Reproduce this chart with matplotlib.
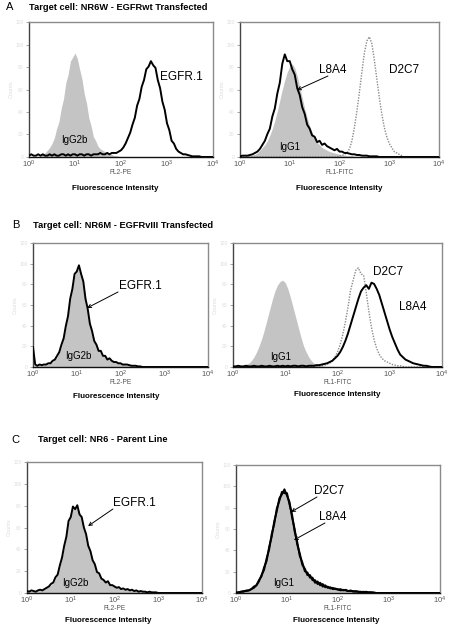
"""
Flow cytometry histograms: EGFR antibody binding on NR6W / NR6M / NR6 cells.
"""

import matplotlib
matplotlib.use("Agg")
import matplotlib.pyplot as plt
import numpy as np

plt.rcParams["font.family"] = ["Liberation Sans", "DejaVu Sans"]
plt.rcParams["mathtext.fontset"] = "custom"
plt.rcParams["mathtext.rm"] = "Liberation Sans"
plt.rcParams["mathtext.it"] = "Liberation Sans:italic"
plt.rcParams["mathtext.bf"] = "Liberation Sans:bold"

# channel grid: log10 fluorescence, 0 .. 4 in steps of 0.05
LOG_FL = np.linspace(0, 4, 81)
DECADES = [0, 1, 2, 3, 4]
DECADE_LABELS = ["$10^{0}$", "$10^{1}$", "$10^{2}$", "$10^{3}$", "$10^{4}$"]
COUNT_TICKS = [0, 16.7, 33.3, 50, 66.7, 83.3, 100]
COUNT_LABELS = ["0", "20", "40", "60", "80", "100", "120"]

# --- Panel A: NR6W (EGFRwt) ---
A_IGG2B = [0, 0, 0, 0.5, 0.5, 1, 2, 3, 5, 7,
           10, 14, 21, 26, 36, 43, 55, 61, 71, 74,
           77, 73, 65, 58, 47, 40, 29, 23, 15, 12,
           8, 6, 5, 4, 3, 2, 2, 1, 1, 0.5]
A_EGFR1 = [1, 2, 1, 1, 2, 1, 2, 1, 1, 2,
           1, 2, 1, 1, 2, 2, 1, 2, 1, 2,
           2, 1, 2, 2, 1, 2, 2, 1, 2, 2,
           2, 3, 2, 2, 3, 2, 3, 3, 3, 4,
           5, 7, 10, 14, 18, 24, 29, 38, 43, 52,
           57, 65, 67, 71, 68, 66, 57, 51, 41, 35,
           25, 20, 12, 10, 6, 4, 3, 2, 2, 1.5,
           1, 0.5, 0.5, 0.5, 0.5]
A_IGG1 = [0, 0, 0.5, 1, 1, 1.5, 2, 3, 5, 7,
          9, 12, 16, 21, 27, 34, 42, 50, 57, 63,
          67, 69, 66, 60, 52, 44, 36, 29, 23, 18,
          14, 11, 9, 7, 6, 5, 4, 3.5, 3, 2.5,
          2, 1.5, 1.5, 1, 1, 1, 0.5, 0.5, 0.5]
A_L8A4 = [0.5, 1, 1, 1, 1.5, 2, 3, 4, 6, 9,
          12, 17, 21, 30, 36, 47, 55, 69, 76, 71,
          71, 65, 61, 51, 46, 37, 32, 24, 21, 16,
          15, 11, 12, 9, 10, 8, 7, 6, 5, 6,
          4, 4, 3, 3, 2.5, 2, 2, 1.5, 1.5, 1,
          1, 1, 0.5, 0.5, 0.5, 0.5]
A_D2C7 = [0] * 40 + [1, 1, 2, 3, 6, 12, 22, 34, 48, 63,
                     77, 86, 89, 84, 72, 58, 44, 32, 22, 15,
                     10, 7, 4, 3, 2, 1]

# --- Panel B: NR6M (EGFRvIII) ---
B_IGG2B = [0, 1, 1, 1, 1.5, 1.5, 2, 2.5, 3, 4,
           6, 8, 12, 17, 24, 32, 42, 53, 64, 73,
           78, 80, 76, 68, 57, 46, 36, 28, 22, 17,
           14, 12, 10, 8, 7, 6, 5, 4, 3.5, 3,
           2.5, 2, 2, 1.5, 1.5, 1, 1, 0.5, 0.5]
B_EGFR1 = [16, 2, 1, 2, 1.5, 2, 2, 3, 3, 5,
           6, 9, 12, 18, 23, 33, 41, 55, 63, 75,
           77, 82, 75, 69, 55, 47, 35, 29, 21, 18,
           13, 13, 9, 9, 6, 7, 5, 4, 4, 3,
           3, 2, 2, 2, 1.5, 1, 1, 1, 0.5, 0.5]
B_IGG1 = [0, 0, 0, 0.5, 1, 2, 3, 5, 8, 12,
          17, 23, 30, 38, 46, 54, 61, 66, 69, 70,
          68, 63, 56, 48, 40, 32, 24, 17, 12, 8,
          5, 3, 2, 1, 1, 0.5]
B_D2C7 = [0] * 26 + [0.5, 0.5, 0.5, 0.5, 0.5, 0.5, 0.5, 0.5, 1, 1.5,
                     2, 3, 5, 8, 12, 18, 26, 36, 48, 62,
                     70, 78, 80, 75, 74, 60, 45, 32, 22, 15,
                     10, 7, 5, 4, 3, 2, 1.5, 1, 1, 0.5]
B_L8A4 = [0.5, 0.5, 1, 0.5, 0.5, 1, 0.5, 0.5, 1, 0.5,
          0.5, 1, 0.5, 0.5, 1, 0.5, 0.5, 1, 0.5, 1,
          0.5, 1, 0.5, 1, 1, 0.5, 1, 1, 0.5, 1,
          1, 1, 1.5, 1.5, 2, 2.5, 3, 4, 5, 7,
          9, 12, 16, 21, 27, 34, 41, 48, 55, 61,
          64, 66, 63, 68, 67, 63, 58, 51, 44, 37,
          30, 24, 19, 14, 10, 8, 6, 5, 4, 3,
          2.5, 2, 1.5, 1, 1, 0.5]

# --- Panel C: NR6 parent line ---
C_IGG2B = [1, 1, 1, 1.5, 1.5, 2, 2, 2.5, 3, 4,
           5, 6, 8, 11, 15, 20, 27, 35, 44, 53,
           60, 64, 66, 65, 62, 57, 51, 44, 37, 31,
           26, 21, 17, 14, 12, 10, 9, 8, 7, 6,
           5, 4.5, 4, 3.5, 3, 3, 2.5, 2.5, 2, 2,
           1.5, 1.5, 1, 1, 1, 1, 0.5, 0.5, 0.5, 0.5]
C_EGFR1 = [1.5, 1, 2, 1.5, 1, 2, 2.5, 2, 3, 4,
           5, 7, 8, 12, 14, 21, 27, 36, 43, 55,
           58, 66, 64, 67, 60, 58, 50, 45, 36, 32,
           25, 22, 16, 15, 11, 10, 8, 9, 6, 6,
           5, 4, 4.5, 3, 3.5, 2.5, 3, 2, 2.5, 1.5,
           2, 1, 1.5, 1, 1, 0.5, 1, 0.5, 0.5, 0.5]
C_IGG1 = [0, 0.5, 1, 1, 1.5, 2, 3, 4, 6, 9,
          13, 19, 26, 35, 45, 55, 65, 73, 78, 80,
          77, 70, 60, 49, 39, 30, 23, 18, 15, 13,
          11, 9, 8, 7, 6, 5, 4.5, 4, 3.5, 3,
          3, 2.5, 2.5, 2, 2, 1.5, 1.5, 1, 1, 1,
          1, 0.5, 0.5, 0.5, 0.5, 0.5, 0.5]
C_D2C7 = [0, 0.5, 1, 1.5, 1.5, 2, 3, 4, 6, 10,
          13, 20, 25, 36, 44, 56, 64, 74, 77, 81,
          76, 71, 59, 50, 38, 31, 22, 19, 14, 14,
          10, 10, 7, 8, 5, 6, 4, 4.5, 3, 3.5,
          2.5, 3, 2, 2.5, 1.5, 2, 1, 1.5, 1, 1,
          0.5, 1, 0.5, 0.5, 0.5]
C_L8A4 = [0.5, 0.5, 1, 1, 2, 2, 3, 5, 6, 9,
          14, 18, 27, 34, 46, 54, 66, 72, 79, 78,
          78, 69, 61, 48, 40, 29, 24, 17, 16, 12,
          12, 8, 9, 6, 7, 4.5, 5, 3.5, 4, 3,
          3, 2, 2.5, 2, 1.5, 1.5, 1.5, 1, 1, 0.5,
          1, 0.5, 0.5, 0.5]

FILL_GRAY = "#c4c4c4"
DOT_GRAY = "#8c8c8c"
W, H = 456, 632


def chan(vals):
    v = np.zeros(len(LOG_FL))
    v[:len(vals)] = vals
    return v


def fx(px):
    return px / W


def fy(py):
    return 1 - py / H


def make_axes(fig, x0, y0, x1, y1, channel):
    ax = fig.add_axes([fx(x0), fy(y1), fx(x1) - fx(x0), (y1 - y0) / H])
    ax.set_xlim(0, 4)
    ax.set_ylim(0, 100)
    ax.set_xticks(DECADES)
    ax.set_xticklabels(DECADE_LABELS, fontsize=5.5, color="#555555")
    ax.tick_params(axis="x", length=0, pad=1.5)
    ax.set_yticks(COUNT_TICKS)
    ax.set_yticklabels(COUNT_LABELS, fontsize=3.5, color="#dddddd")
    ax.tick_params(axis="y", length=2, width=0.6, color="#999999", pad=2)
    ax.set_ylabel("Counts", fontsize=4, color="#dddddd", labelpad=1)
    for side in ["top", "right"]:
        ax.spines[side].set_color("#8a8a8a")
        ax.spines[side].set_linewidth(1.0)
    ax.spines["left"].set_color("#444444")
    ax.spines["left"].set_linewidth(1.0)
    ax.spines["bottom"].set_color("#111111")
    ax.spines["bottom"].set_linewidth(1.0)
    # channel name sits just under the 10^2 label
    off = 15.5 / (y1 - y0)
    ax.text(2.0, -off, channel, transform=ax.get_xaxis_transform(),
            ha="center", va="center", fontsize=4.8, color="#555555")
    return ax


def fill_hist(ax, vals):
    ax.fill_between(LOG_FL, chan(vals), color=FILL_GRAY, lw=0, zorder=1)


def line_hist(ax, vals, dotted=False):
    if dotted:
        ax.plot(LOG_FL, chan(vals), color=DOT_GRAY, lw=1.0,
                ls=(0, (1, 1)), zorder=2)
    else:
        ax.plot(LOG_FL, chan(vals), color="black", lw=1.4, zorder=3)


def label(ax, text, x, y, size=8.5, arrow_from=None, arrow_to=None):
    ax.text(x, y, text, transform=ax.transAxes, fontsize=size,
            ha="left", va="center", zorder=5)
    if arrow_from is not None:
        ax.annotate("", xy=arrow_to, xytext=arrow_from,
                    xycoords="axes fraction", textcoords="axes fraction",
                    arrowprops=dict(arrowstyle="->", color="black", lw=0.7,
                                    shrinkA=0, shrinkB=0,
                                    mutation_scale=6))


fig = plt.figure(figsize=(W / 100, H / 100), dpi=100)

# section headers
fig.text(fx(6), fy(7), "A", fontsize=8, va="center")
fig.text(fx(29), fy(7), "Target cell: NR6W - EGFRwt Transfected",
         fontsize=6.7, fontweight="bold", va="center")
fig.text(fx(12), fy(225), "B", fontsize=8, va="center")
fig.text(fx(33), fy(225), "Target cell: NR6M - EGFRvIII Transfected",
         fontsize=6.7, fontweight="bold", va="center")
fig.text(fx(11), fy(440), "C", fontsize=8, va="center")
fig.text(fx(38), fy(440), "Target cell: NR6 - Parent Line",
         fontsize=6.7, fontweight="bold", va="center")

# A left
ax = make_axes(fig, 29, 22, 213, 157, "FL2-PE")
fill_hist(ax, A_IGG2B)
line_hist(ax, A_EGFR1)
label(ax, "EGFR.1", 0.712, 0.593)
label(ax, "IgG2b", 0.174, 0.126, size=7)

# A right
ax = make_axes(fig, 240, 22, 439, 157, "FL1-FITC")
fill_hist(ax, A_IGG1)
line_hist(ax, A_D2C7, dotted=True)
line_hist(ax, A_L8A4)
label(ax, "L8A4", 0.397, 0.644, arrow_from=(0.442, 0.600),
      arrow_to=(0.286, 0.496))
label(ax, "D2C7", 0.749, 0.644)
label(ax, "IgG1", 0.196, 0.074, size=7)

# B left
ax = make_axes(fig, 33, 243, 208, 367, "FL2-PE")
fill_hist(ax, B_IGG2B)
line_hist(ax, B_EGFR1)
label(ax, "EGFR.1", 0.491, 0.653, arrow_from=(0.486, 0.605),
      arrow_to=(0.309, 0.476))
label(ax, "IgG2b", 0.183, 0.089, size=7)

# B right
ax = make_axes(fig, 233, 243, 442, 367, "FL1-FITC")
fill_hist(ax, B_IGG1)
line_hist(ax, B_D2C7, dotted=True)
line_hist(ax, B_L8A4)
label(ax, "D2C7", 0.670, 0.766)
label(ax, "L8A4", 0.794, 0.484)
label(ax, "IgG1", 0.177, 0.081, size=7)

# C left
ax = make_axes(fig, 27, 462, 202, 593, "FL2-PE")
fill_hist(ax, C_IGG2B)
line_hist(ax, C_EGFR1)
label(ax, "EGFR.1", 0.491, 0.687, arrow_from=(0.491, 0.641),
      arrow_to=(0.349, 0.511))
label(ax, "IgG2b", 0.200, 0.076, size=7)

# C right
ax = make_axes(fig, 236, 465, 440, 593, "FL1-FITC")
fill_hist(ax, C_IGG1)
line_hist(ax, C_D2C7)
line_hist(ax, C_L8A4)
label(ax, "D2C7", 0.382, 0.797, arrow_from=(0.397, 0.750),
      arrow_to=(0.270, 0.633))
label(ax, "L8A4", 0.407, 0.594, arrow_from=(0.436, 0.547),
      arrow_to=(0.284, 0.414))
label(ax, "IgG1", 0.181, 0.078, size=7)

# x-axis titles
for cx, cy in [(115, 189), (339, 189), (116, 396), (337, 394),
               (108, 621), (336, 621)]:
    fig.text(fx(cx), fy(cy), "Fluorescence Intensity", fontsize=5.8,
             fontweight="bold", ha="center", va="center")

fig.savefig("out.png", dpi=100)
